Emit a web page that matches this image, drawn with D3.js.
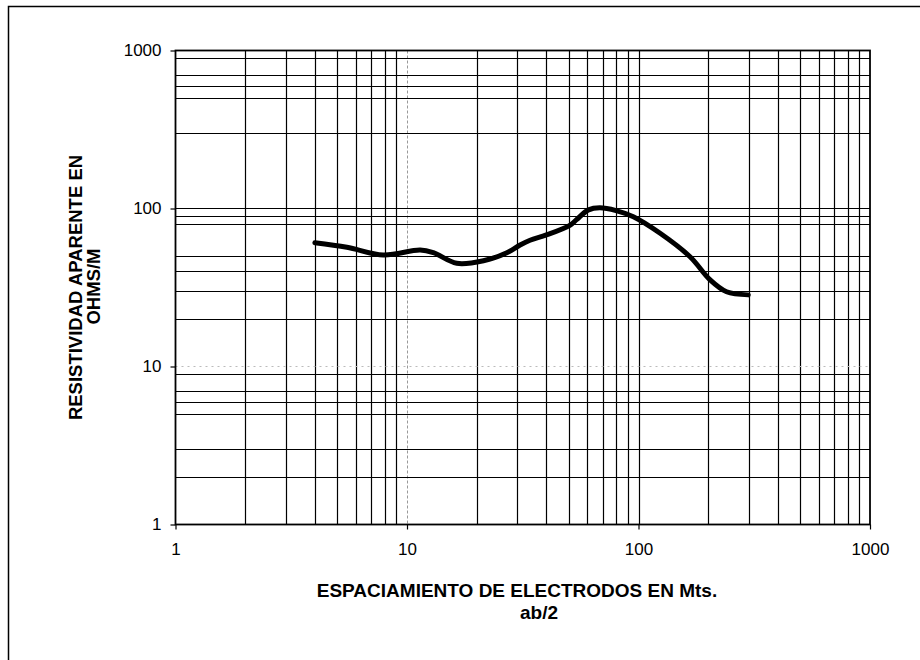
<!DOCTYPE html>
<html>
<head>
<meta charset="utf-8">
<script src="https://cdn.jsdelivr.net/npm/d3@7"></script>
<style>
  html, body { margin: 0; padding: 0; background: #fff; }
  svg { display: block; font-family: "Liberation Sans", Arial, sans-serif; }
</style>
</head>
<body>
<svg id="chart" width="920" height="660"></svg>
<script>
// ---- data ----
const spacing   = [4, 5.5, 7.9, 11.4, 13, 16.4, 21.4, 27, 30.8, 34, 40, 50.7, 54, 60.8, 68, 80, 95, 124, 167, 204, 240, 298];
const resistivity = [60.7, 56.8, 50.8, 54.6, 52.5, 45, 46.7, 52.5, 58.8, 63, 68, 78.6, 85, 98, 101, 97, 88.7, 69.7, 49.5, 35.3, 29.7, 28.4];

const xTickValues = [1, 10, 100, 1000];
const yTickValues = [1, 10, 100, 1000];
const xTickLabels = ["1", "10", "100", "1000"];
const yTickLabels = ["1", "10", "100", "1000"];

// minor grid lines visible in the reference
const xGridValues = [2,3,4,5,6,7,8,9, 20,30,40,50,60,70,80,90, 100, 200,300,400,500,600,700,800,900];
const xFaintGrid  = [10];
const yGridValues = [2,3,5,6,7,9, 20,30,40,50,80,90, 100, 300,500,600,700,900];
const yFaintGrid  = [10];

const yTitleLines = ["RESISTIVIDAD APARENTE EN", "OHMS/M"];
const xTitleLines = ["ESPACIAMIENTO DE ELECTRODOS EN Mts.", "ab/2"];

// ---- layout ----
const svg = d3.select("#chart");
const L = 175.5, R = 870, T = 50.5, B = 524.5;

const x = d3.scaleLog().domain([1, 1000]).range([L, R]);
const y = d3.scaleLog().domain([1, 1000]).range([B, T]);

// outer frame (page border)
svg.append("path")
  .attr("d", "M8.5,660 V6.5 H920")
  .attr("fill", "none").attr("stroke", "#000").attr("stroke-width", 1.5);

const grid = svg.append("g");
grid.selectAll("line.vx").data(xGridValues).join("line")
  .attr("x1", d => Math.round(x(d)) + 0.5).attr("x2", d => Math.round(x(d)) + 0.5)
  .attr("y1", T).attr("y2", B)
  .attr("stroke", "#000").attr("stroke-width", 1.2);
grid.selectAll("line.vf").data(xFaintGrid).join("line")
  .attr("x1", d => Math.round(x(d)) + 0.5).attr("x2", d => Math.round(x(d)) + 0.5)
  .attr("y1", T).attr("y2", B)
  .attr("stroke", "#999").attr("stroke-width", 1).attr("stroke-dasharray", "3,2");
grid.selectAll("line.hy").data(yGridValues).join("line")
  .attr("y1", d => Math.round(y(d)) + 0.5).attr("y2", d => Math.round(y(d)) + 0.5)
  .attr("x1", L).attr("x2", R)
  .attr("stroke", "#000").attr("stroke-width", 1.2);
grid.selectAll("line.hf").data(yFaintGrid).join("line")
  .attr("y1", d => Math.round(y(d)) + 0.5).attr("y2", d => Math.round(y(d)) + 0.5)
  .attr("x1", L).attr("x2", R)
  .attr("stroke", "#bbb").attr("stroke-width", 1).attr("stroke-dasharray", "2,4");

// plot border
svg.append("rect")
  .attr("x", L).attr("y", T).attr("width", R - L).attr("height", B - T)
  .attr("fill", "none").attr("stroke", "#000").attr("stroke-width", 1.8);

// axes
const xAxis = d3.axisBottom(x)
  .tickValues(xTickValues)
  .tickFormat((d, i) => xTickLabels[i])
  .tickSize(5).tickPadding(13);
const yAxis = d3.axisLeft(y)
  .tickValues(yTickValues)
  .tickFormat((d, i) => yTickLabels[i])
  .tickSize(5).tickPadding(9);

const gx = svg.append("g").attr("transform", `translate(0,${B})`).call(xAxis);
const gy = svg.append("g").attr("transform", `translate(${L},0)`).call(yAxis);
[gx, gy].forEach(g => {
  g.select(".domain").remove();
  g.selectAll(".tick line").attr("stroke", "#000").attr("stroke-width", 1.2);
  g.selectAll(".tick text").attr("fill", "#000")
    .style("font-family", "'Liberation Sans', Arial, sans-serif")
    .style("font-size", "17px");
});

// resistivity curve
const line = d3.line()
  .x((d, i) => x(spacing[i]))
  .y((d, i) => y(resistivity[i]))
  .curve(d3.curveCatmullRom.alpha(0.5));
svg.append("path")
  .datum(resistivity)
  .attr("d", line)
  .attr("fill", "none")
  .attr("stroke", "#000")
  .attr("stroke-width", 5)
  .attr("stroke-linecap", "round")
  .attr("stroke-linejoin", "round");

// titles
const yMid = (T + B) / 2;
svg.append("text")
  .attr("transform", `translate(82,${yMid}) rotate(-90)`)
  .attr("text-anchor", "middle")
  .style("font-weight", "bold").style("font-size", "18.5px")
  .text(yTitleLines[0]);
svg.append("text")
  .attr("transform", `translate(100,${yMid - 1}) rotate(-90)`)
  .attr("text-anchor", "middle")
  .style("font-weight", "bold").style("font-size", "18.5px")
  .text(yTitleLines[1]);

svg.append("text")
  .attr("x", 517).attr("y", 597)
  .attr("text-anchor", "middle")
  .style("font-weight", "bold").style("font-size", "19px")
  .text(xTitleLines[0]);
svg.append("text")
  .attr("x", 539).attr("y", 619)
  .attr("text-anchor", "middle")
  .style("font-weight", "bold").style("font-size", "19px")
  .text(xTitleLines[1]);
</script>
</body>
</html>
